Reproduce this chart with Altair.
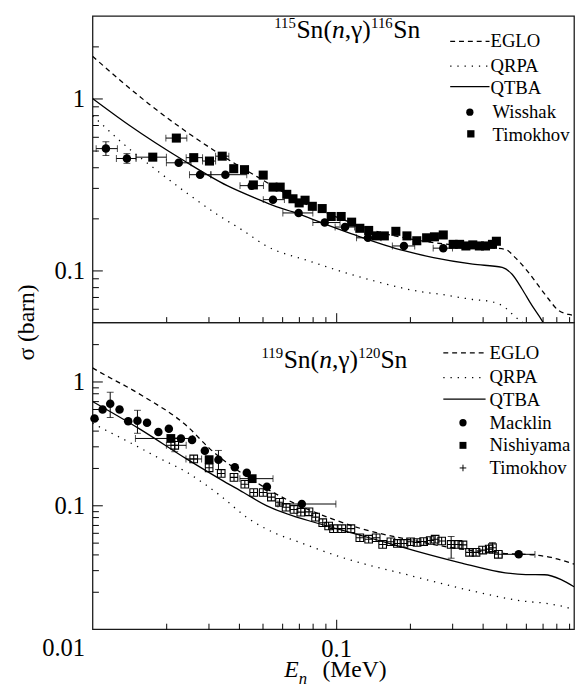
import altair as alt
import pandas as pd

FONT = "Liberation Serif, Times New Roman, Times, DejaVu Serif, serif"
X_DOMAIN = [0.01, 0.946]
TOP_Y_DOMAIN = [0.05, 3.0]
BOT_Y_DOMAIN = [0.01, 3.0]
W, H_TOP, H_BOT = 490, 312, 312

# ---------------- top panel: 115Sn(n,g)116Sn ----------------
top_eglo_E = [0.01, 0.01698, 0.0325, 0.05, 0.07, 0.1, 0.15, 0.2, 0.3, 0.4, 0.45, 0.495, 0.543, 0.615, 0.675, 0.741, 0.813, 0.92, 0.946]
top_eglo_s = [1.75, 0.93, 0.484, 0.335, 0.255, 0.205, 0.167, 0.153, 0.141, 0.137, 0.135, 0.1327, 0.119, 0.0977, 0.082, 0.0689, 0.0591, 0.0553, 0.0548]

top_qrpa_E = [0.01, 0.01047, 0.01321, 0.01811, 0.0246, 0.0334, 0.0418, 0.0517, 0.077, 0.1437, 0.2285, 0.2668, 0.3635, 0.4377, 0.494, 0.542, 0.594, 0.63]
top_qrpa_s = [0.79, 0.746, 0.552, 0.387, 0.279, 0.2065, 0.1695, 0.139, 0.114, 0.087, 0.075, 0.073, 0.068, 0.0659, 0.061, 0.054, 0.049, 0.045]

top_qtba_E = [0.01, 0.0141, 0.02386, 0.0357, 0.04714, 0.05675, 0.06647, 0.0903, 0.1193, 0.1897, 0.2507, 0.3635, 0.48, 0.527, 0.578, 0.6346, 0.696, 0.729]
top_qtba_s = [0.996, 0.699, 0.432, 0.311, 0.2614, 0.2353, 0.2189, 0.1858, 0.161, 0.1304, 0.119, 0.109, 0.1043, 0.0952, 0.0785, 0.063, 0.0518, 0.0462]

wisshak_E = [0.01135, 0.01384, 0.02258, 0.02763, 0.0351, 0.045, 0.05504, 0.0701, 0.0897, 0.1087, 0.135, 0.1897, 0.275]
wisshak_s = [0.510, 0.447, 0.422, 0.360, 0.360, 0.311, 0.258, 0.216, 0.190, 0.179, 0.155, 0.139, 0.135]
wisshak_Elo = [0.01035, 0.01253, 0.0201, 0.025, 0.0306, 0.0403, 0.0502, 0.0604, 0.0802, 0.099, 0.1212, 0.17, 0.25]
wisshak_Ehi = [0.01265, 0.01509, 0.02537, 0.0306, 0.04295, 0.0503, 0.0613, 0.0802, 0.1037, 0.119, 0.1528, 0.21, 0.30]
wisshak_slo = [0.465, 0.419]
wisshak_shi = [0.559, 0.477]

timokhov_top_E = [0.01767, 0.02208, 0.02602, 0.03019, 0.03406, 0.03797, 0.04205, 0.04572, 0.05017, 0.05504, 0.0589, 0.06268, 0.06647, 0.07047, 0.07451, 0.0798, 0.0876, 0.0954, 0.1048, 0.1157, 0.125, 0.1359, 0.1459, 0.1576, 0.1757, 0.1951, 0.2141, 0.235, 0.253, 0.275, 0.302, 0.321, 0.3405, 0.3635, 0.3868, 0.410, 0.4377, 0.4543]
timokhov_top_s = [0.455, 0.587, 0.452, 0.432, 0.461, 0.390, 0.385, 0.314, 0.358, 0.305, 0.305, 0.277, 0.261, 0.247, 0.256, 0.236, 0.229, 0.206, 0.206, 0.191, 0.176, 0.171, 0.159, 0.159, 0.169, 0.159, 0.149, 0.155, 0.157, 0.161, 0.142, 0.142, 0.139, 0.141, 0.139, 0.139, 0.142, 0.148]
timokhov_top_Elo = [0.01509, 0.0200, 0.02423, 0.02829, 0.0320]
timokhov_top_Ehi = [0.0201, 0.02438, 0.02829, 0.0320, 0.03626]

# ---------------- bottom panel: 119Sn(n,g)120Sn ----------------
bot_eglo_E = [0.01, 0.0105, 0.01595, 0.0246, 0.0301, 0.04714, 0.05853, 0.0961, 0.1269, 0.2083, 0.3104, 0.48, 0.6524, 0.7639, 0.92, 0.946]
bot_eglo_s = [1.29, 1.22, 0.772, 0.431, 0.290, 0.1527, 0.1194, 0.0778, 0.0648, 0.052, 0.0449, 0.041, 0.0397, 0.0379, 0.0341, 0.0335]

bot_qrpa_E = [0.01, 0.01067, 0.01523, 0.01807, 0.0246, 0.03352, 0.04296, 0.05675, 0.06835, 0.1054, 0.1956, 0.3635, 0.578, 0.7639, 0.92, 0.946]
bot_qrpa_s = [0.462, 0.431, 0.30, 0.25, 0.183, 0.1194, 0.080, 0.059, 0.0515, 0.038, 0.0275, 0.0203, 0.0169, 0.0159, 0.0145, 0.0141]

bot_qtba_E = [0.01, 0.01547, 0.0246, 0.03352, 0.04167, 0.05172, 0.06835, 0.0798, 0.1269, 0.1729, 0.2147, 0.321, 0.494, 0.60, 0.716, 0.838, 0.946]
bot_qtba_s = [0.691, 0.419, 0.234, 0.1622, 0.127, 0.0994, 0.0808, 0.0737, 0.057, 0.048, 0.0425, 0.0345, 0.0285, 0.0276, 0.0275, 0.0251, 0.022]

macklin_E = [0.01019, 0.0110, 0.01182, 0.01291, 0.01401, 0.01529, 0.01674, 0.01863, 0.02057, 0.02306, 0.02562, 0.0289, 0.03287, 0.03837, 0.04296, 0.05196, 0.07226, 0.5608]
macklin_s = [0.503, 0.594, 0.6625, 0.594, 0.479, 0.483, 0.464, 0.391, 0.416, 0.346, 0.338, 0.276, 0.234, 0.203, 0.1834, 0.1414, 0.1025, 0.0402]
macklin_yerr_E = [0.01182, 0.01529, 0.03287]
macklin_yerr_lo = [0.5126, 0.382, 0.195]
macklin_yerr_hi = [0.820, 0.586, 0.2777]
macklin_xerr_s = [0.1025, 0.0402]
macklin_xerr_lo = [0.05767, 0.480]
macklin_xerr_hi = [0.0997, 0.654]

nishiyama_E = [0.02096, 0.0301, 0.04521]
nishiyama_s = [0.347, 0.234, 0.1643]
nishiyama_xerr_s = [0.347, 0.1643]
nishiyama_xerr_lo = [0.015, 0.04025]
nishiyama_xerr_hi = [0.02578, 0.05504]

timokhov_bot_E = [0.02175, 0.02602, 0.0301, 0.03374, 0.03807, 0.04217, 0.04585, 0.05017, 0.05419, 0.05853, 0.06228, 0.0671, 0.07157, 0.07733, 0.0823, 0.08806, 0.09311, 0.0975, 0.1054, 0.1149, 0.125, 0.1359, 0.1459, 0.1551, 0.1677, 0.1783, 0.1897, 0.2019, 0.2147, 0.2285, 0.2431, 0.2547, 0.2708, 0.2963, 0.3162, 0.3313, 0.3525, 0.3748, 0.3989, 0.4245, 0.4377, 0.4627]
timokhov_bot_s = [0.3055, 0.237, 0.201, 0.1811, 0.1683, 0.148, 0.127, 0.127, 0.1166, 0.1058, 0.0965, 0.0927, 0.0881, 0.0886, 0.0803, 0.0724, 0.0681, 0.0648, 0.0648, 0.0648, 0.0547, 0.0533, 0.0547, 0.0483, 0.0508, 0.0492, 0.0492, 0.0508, 0.0501, 0.051, 0.052, 0.0533, 0.0515, 0.0483, 0.0483, 0.0479, 0.0417, 0.0417, 0.0435, 0.0443, 0.0455, 0.0402]
timokhov_bot_xerr_s = [0.3055, 0.237]
timokhov_bot_xerr_lo = [0.0201, 0.02418]
timokhov_bot_xerr_hi = [0.02423, 0.02803]
timokhov_bot_yerr_E = [0.02175, 0.2963, 0.4377]
timokhov_bot_yerr_lo = [0.2712, 0.0374, 0.041]
timokhov_bot_yerr_hi = [0.3505, 0.056, 0.050]

# ---------------- axis tick values ----------------
X_MAJOR = [0.1]
X_MINOR = [0.02, 0.03, 0.04, 0.05, 0.06, 0.07, 0.08, 0.09, 0.2, 0.3, 0.4, 0.5, 0.6, 0.7, 0.8, 0.9]
Y_MAJOR_TOP = [0.1, 1]
Y_MINOR_TOP = [0.06, 0.07, 0.08, 0.09, 0.2, 0.3, 0.4, 0.5, 0.6, 0.7, 0.8, 0.9, 2]
Y_MAJOR_BOT = [0.01, 0.1, 1]
Y_MINOR_BOT = [0.02, 0.03, 0.04, 0.05, 0.06, 0.07, 0.08, 0.09, 0.2, 0.3, 0.4, 0.5, 0.6, 0.7, 0.8, 0.9, 2]

LBL = 25
xs = alt.Scale(type="log", domain=X_DOMAIN, nice=False)
ys_top = alt.Scale(type="log", domain=TOP_Y_DOMAIN, nice=False)
ys_bot = alt.Scale(type="log", domain=BOT_Y_DOMAIN, nice=False)


def x_major(labels):
    return alt.Axis(values=X_MAJOR, orient="bottom", offset=-10, tickSize=10, domain=False,
                    grid=False, labels=labels, title=None, labelFont=FONT, labelFontSize=LBL,
                    labelColor="black", labelPadding=8, format="~g", labelFlush=False,
                    tickColor="black", tickWidth=1)


def x_minor():
    return alt.Axis(values=X_MINOR, orient="bottom", offset=-6, tickSize=6, domain=False,
                    grid=False, labels=False, title=None, tickColor="black", tickWidth=1)


def y_major(values):
    return alt.Axis(values=values, orient="left", offset=-10, tickSize=10, domain=False,
                    grid=False, title=None, labelFont=FONT, labelFontSize=LBL, labelColor="black",
                    labelPadding=8, format="~g", labelFlush=False, tickColor="black", tickWidth=1,
                    tickOpacity={"condition": {"test": "datum.value < 0.05", "value": 0}, "value": 1},
                    labelOffset={"condition": {"test": "datum.value < 0.05", "value": 19}, "value": 0})


def y_minor(values):
    return alt.Axis(values=values, orient="left", offset=-6, tickSize=6, domain=False,
                    grid=False, labels=False, title=None, tickColor="black", tickWidth=1)


def curve(E, s, ys, xaxis=None, yaxis=None, dash=None):
    df = pd.DataFrame({"E": E, "s": s})
    kw = dict(color="black", strokeWidth=1.3, interpolate="monotone", clip=True)
    if dash is not None:
        kw["strokeDash"] = dash
    return alt.Chart(df).mark_line(**kw).encode(
        x=alt.X("E:Q", scale=xs, axis=xaxis),
        y=alt.Y("s:Q", scale=ys, axis=yaxis))


def xerr(lo, hi, s, ys):
    df = pd.DataFrame({"lo": lo, "hi": hi, "s": s})
    base = alt.Chart(df)
    rule = base.mark_rule(color="black", strokeWidth=1).encode(
        x=alt.X("lo:Q", scale=xs, axis=None), x2="hi:Q", y=alt.Y("s:Q", scale=ys, axis=None))
    c1 = base.mark_tick(color="black", orient="vertical", size=7, thickness=1).encode(
        x=alt.X("lo:Q", scale=xs, axis=None), y=alt.Y("s:Q", scale=ys, axis=None))
    c2 = base.mark_tick(color="black", orient="vertical", size=7, thickness=1).encode(
        x=alt.X("hi:Q", scale=xs, axis=None), y=alt.Y("s:Q", scale=ys, axis=None))
    return [rule, c1, c2]


def yerr(E, lo, hi, ys):
    df = pd.DataFrame({"E": E, "lo": lo, "hi": hi})
    base = alt.Chart(df)
    rule = base.mark_rule(color="black", strokeWidth=1).encode(
        x=alt.X("E:Q", scale=xs, axis=None), y=alt.Y("lo:Q", scale=ys, axis=None), y2="hi:Q")
    c1 = base.mark_tick(color="black", orient="horizontal", size=7, thickness=1).encode(
        x=alt.X("E:Q", scale=xs, axis=None), y=alt.Y("lo:Q", scale=ys, axis=None))
    c2 = base.mark_tick(color="black", orient="horizontal", size=7, thickness=1).encode(
        x=alt.X("E:Q", scale=xs, axis=None), y=alt.Y("hi:Q", scale=ys, axis=None))
    return [rule, c1, c2]


def points(E, s, ys, shape, size, filled=True, sw=1):
    df = pd.DataFrame({"E": E, "s": s})
    return alt.Chart(df).mark_point(shape=shape, size=size, filled=filled, color="black",
                                    opacity=1, strokeWidth=sw).encode(
        x=alt.X("E:Q", scale=xs, axis=None), y=alt.Y("s:Q", scale=ys, axis=None))


def txt(t, x, y, size, style="normal", align="left", baseline="alphabetic", angle=None):
    kw = dict(font=FONT, fontSize=size, fontStyle=style, align=align, baseline=baseline,
              color="black")
    if angle is not None:
        kw["angle"] = angle
    return alt.Chart(pd.DataFrame({"t": [t]})).mark_text(**kw).encode(
        x=alt.value(x), y=alt.value(y), text="t:N")


def leg_line(x1, x2, y, dash=None):
    kw = dict(color="black", strokeWidth=1.3)
    if dash is not None:
        kw["strokeDash"] = dash
    return alt.Chart(pd.DataFrame({"a": [0]})).mark_rule(**kw).encode(
        x=alt.value(x1), x2=alt.value(x2), y=alt.value(y))


def leg_sym(x, y, shape, size, filled=True, sw=1):
    return alt.Chart(pd.DataFrame({"a": [0]})).mark_point(
        shape=shape, size=size, filled=filled, color="black", opacity=1, strokeWidth=sw).encode(
        x=alt.value(x), y=alt.value(y))


def reaction(x0, y0, a, b):
    F, f = 26, 15
    parts = []
    x = x0
    parts.append(txt(a, x, y0 - 10, f)); x += 1.5 * f
    parts.append(txt("Sn(", x, y0, F)); x += (0.556 + 0.5 + 0.333) * F
    parts.append(txt("n", x, y0, F, style="italic")); x += 0.5 * F
    parts.append(txt(",γ)", x, y0, F)); x += (0.25 + 0.45 + 0.333) * F
    parts.append(txt(b, x, y0 - 10, f)); x += 1.5 * f
    parts.append(txt("Sn", x, y0, F))
    return parts


DASH = [5, 4]
DOT = [1.3, 6]
SQ_PATH = "M-1,-1H1V1H-1ZM-1,0H1M0,-1V1"
PLUS_PATH = "M-1,0H1M0,-1V1"
LF = 19

# ---------------- build top ----------------
top_layers = [
    curve(top_eglo_E, top_eglo_s, ys_top, x_major(False), y_major(Y_MAJOR_TOP), dash=DASH),
    curve(top_qrpa_E, top_qrpa_s, ys_top, x_minor(), y_minor(Y_MINOR_TOP), dash=DOT),
    curve(top_qtba_E, top_qtba_s, ys_top),
]
top_layers += xerr(wisshak_Elo, wisshak_Ehi, wisshak_s, ys_top)
top_layers += yerr(wisshak_E[:2], wisshak_slo, wisshak_shi, ys_top)
top_layers += xerr(timokhov_top_Elo, timokhov_top_Ehi, timokhov_top_s[:5], ys_top)
top_layers.append(points(wisshak_E, wisshak_s, ys_top, "circle", 75))
top_layers.append(points(timokhov_top_E, timokhov_top_s, ys_top, "square", 85))
top_layers += [
    leg_line(364, 404, 26, DASH), txt("EGLO", 405, 26, LF, baseline="middle"),
    leg_line(364, 404, 51, DOT), txt("QRPA", 405, 51, LF, baseline="middle"),
    leg_line(364, 404, 72), txt("QTBA", 405, 73, LF, baseline="middle"),
    leg_sym(384, 98, "circle", 55), txt("Wisshak", 407, 98, LF, baseline="middle"),
    leg_sym(385, 120, "square", 55), txt("Timokhov", 407, 121, LF, baseline="middle"),
]
top_layers += reaction(185, 22, "115", "116")
top_layers.append(txt("σ (barn)", -67, 312, 24, align="center", baseline="middle", angle=270))

top = alt.layer(*top_layers).resolve_axis(x="independent", y="independent").properties(
    width=W, height=H_TOP)

# ---------------- build bottom ----------------
bot_layers = [
    curve(bot_eglo_E, bot_eglo_s, ys_bot, x_major(True), y_major(Y_MAJOR_BOT), dash=DASH),
    curve(bot_qrpa_E, bot_qrpa_s, ys_bot, x_minor(), y_minor(Y_MINOR_BOT), dash=DOT),
    curve(bot_qtba_E, bot_qtba_s, ys_bot),
]
bot_layers += yerr(macklin_yerr_E, macklin_yerr_lo, macklin_yerr_hi, ys_bot)
bot_layers += xerr(macklin_xerr_lo, macklin_xerr_hi, macklin_xerr_s, ys_bot)
bot_layers += xerr(nishiyama_xerr_lo, nishiyama_xerr_hi, nishiyama_xerr_s, ys_bot)
bot_layers += xerr(timokhov_bot_xerr_lo, timokhov_bot_xerr_hi, timokhov_bot_xerr_s, ys_bot)
bot_layers += yerr(timokhov_bot_yerr_E, timokhov_bot_yerr_lo, timokhov_bot_yerr_hi, ys_bot)
bot_layers.append(points(timokhov_bot_E, timokhov_bot_s, ys_bot, SQ_PATH, 60, filled=False, sw=1.1))
bot_layers.append(points(macklin_E, macklin_s, ys_bot, "circle", 75))
bot_layers.append(points(nishiyama_E, nishiyama_s, ys_bot, "square", 80))
bot_layers += [
    leg_line(357, 400, 31, DASH), txt("EGLO", 404, 31, LF, baseline="middle"),
    leg_line(357, 400, 56, DOT), txt("QRPA", 404, 56, LF, baseline="middle"),
    leg_line(357, 400, 78), txt("QTBA", 404, 79, LF, baseline="middle"),
    leg_sym(377, 102, "circle", 55), txt("Macklin", 404, 102, LF, baseline="middle"),
    leg_sym(377, 125, "square", 50), txt("Nishiyama", 404, 125, LF, baseline="middle"),
    leg_sym(377, 148, PLUS_PATH, 45, filled=False, sw=1), txt("Timokhov", 404, 148, LF, baseline="middle"),
]
bot_layers += reaction(172, 46, "119", "120")
bot_layers += [
    txt("E", 195, 361, 24, style="italic"),
    txt("n", 210, 368, 17, style="italic"),
    txt("(MeV)", 234, 361, 24),
]

bottom = alt.layer(*bot_layers).resolve_axis(x="independent", y="independent").properties(
    width=W, height=H_BOT)

chart = alt.vconcat(top, bottom, spacing=0, bounds="flush").properties(
    padding={"left": 6, "top": 1, "right": 0, "bottom": 2}
).configure(font=FONT, background="white").configure_text(font=FONT).configure_axis(
    labelFont=FONT, titleFont=FONT
).configure_view(stroke="#1a1a1a", strokeWidth=1.3)

chart.save("out.html", embed_options={"renderer": "svg", "actions": False})
